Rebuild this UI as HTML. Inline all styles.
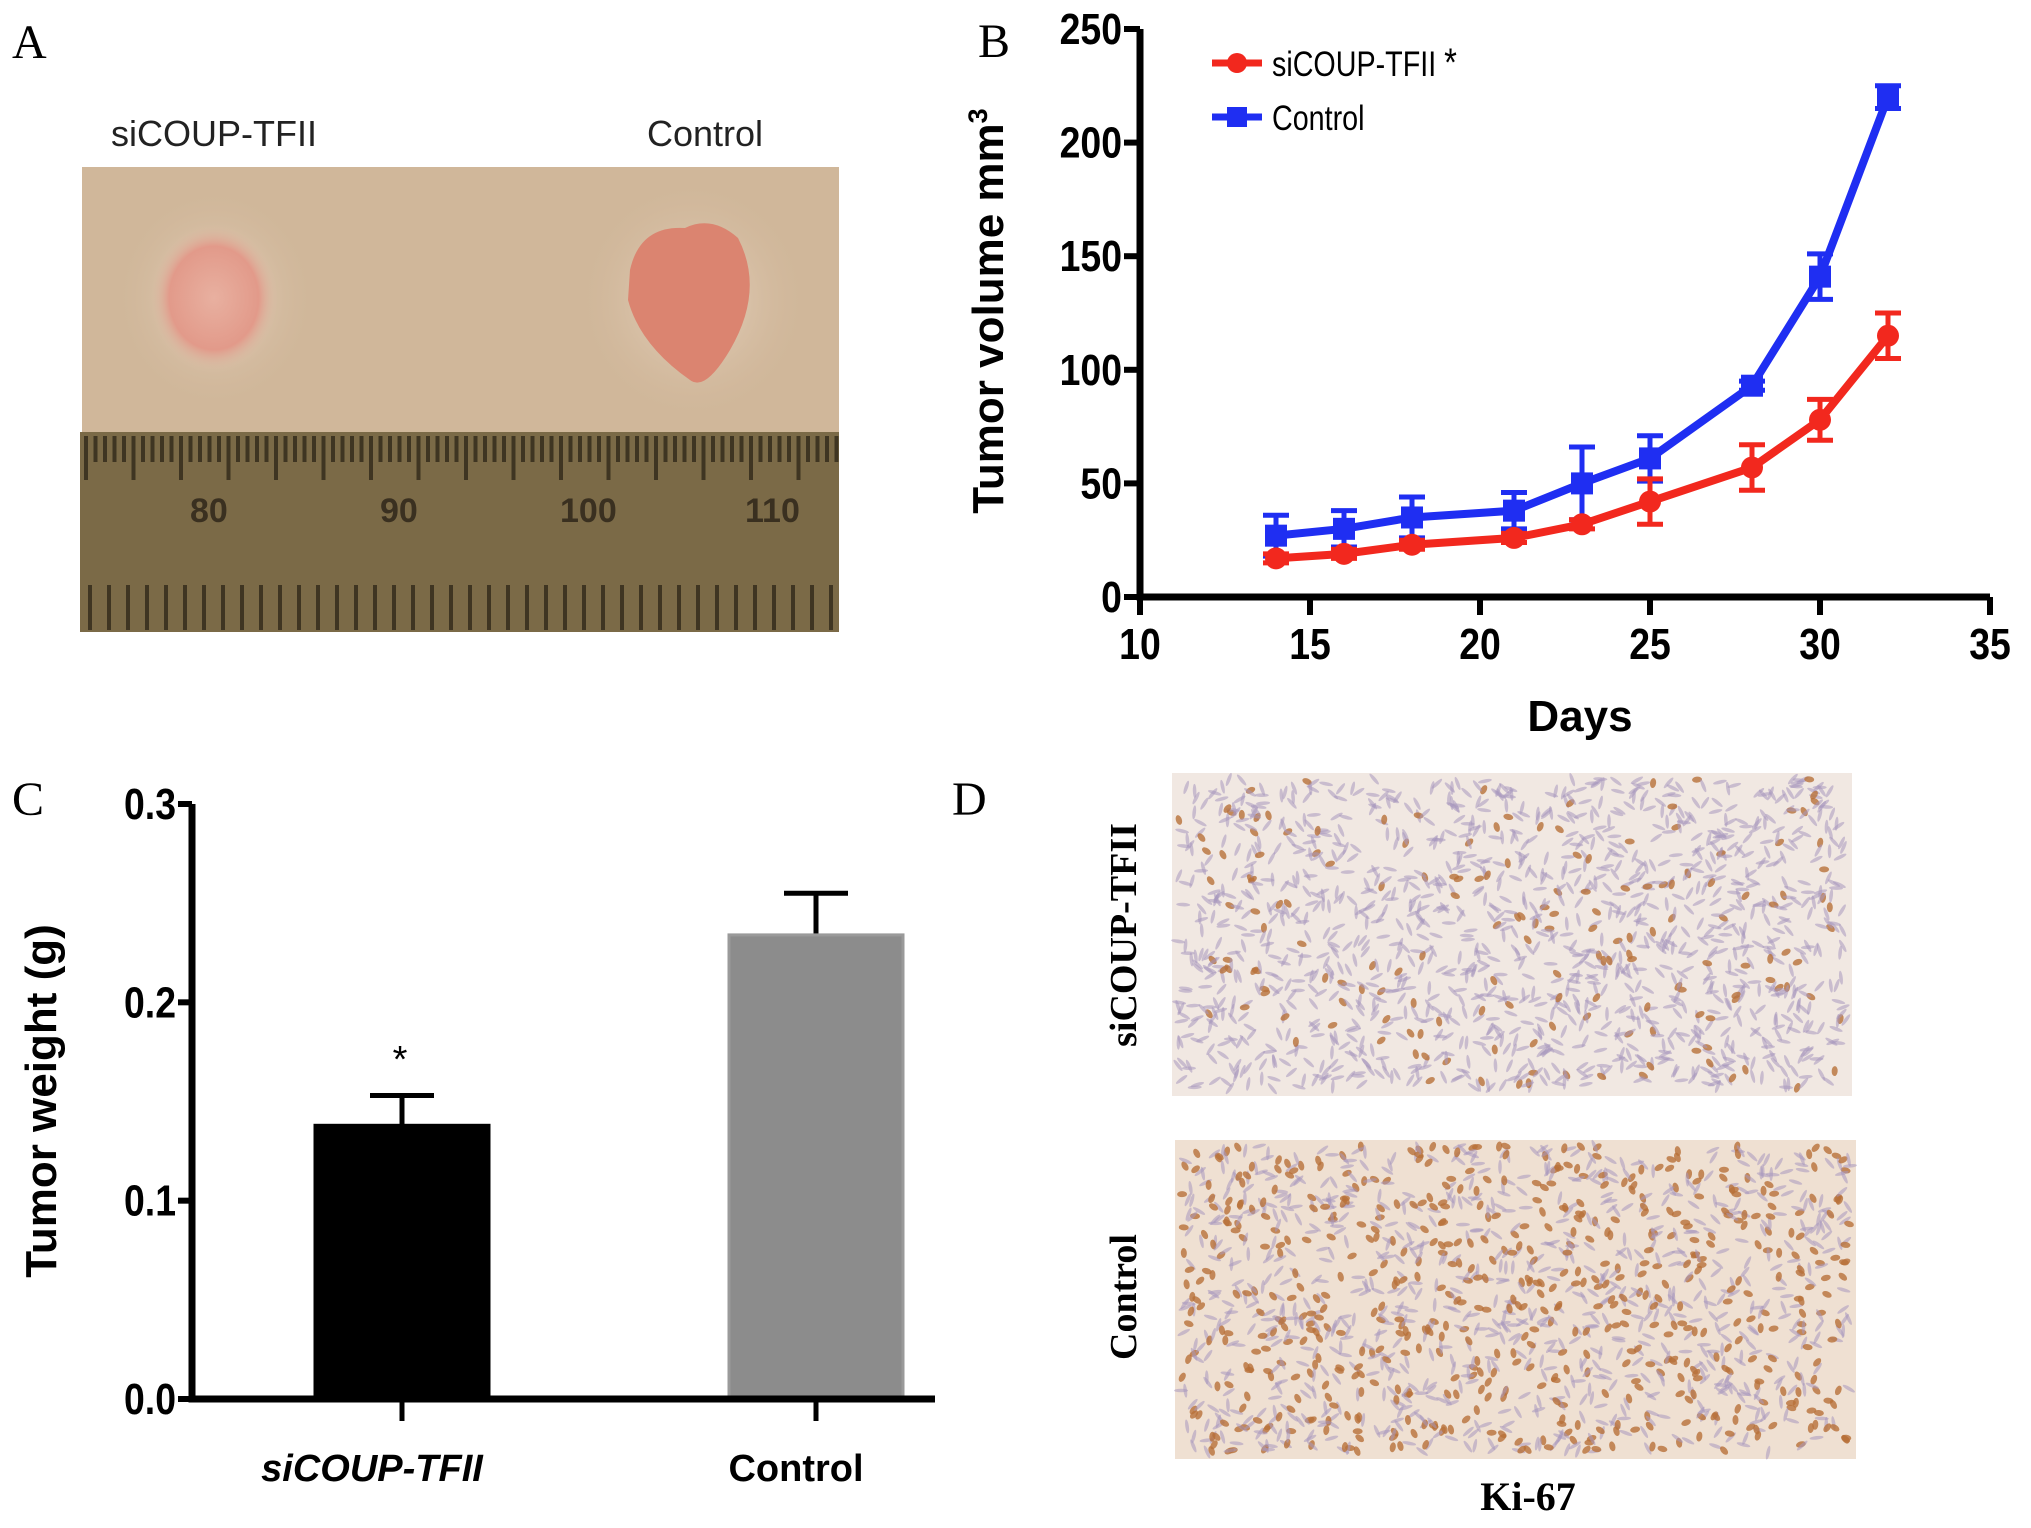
<!DOCTYPE html>
<html><head><meta charset="utf-8">
<style>
html,body{margin:0;padding:0;background:#fff;}
svg{display:block;}
</style></head>
<body>
<svg id="fig" width="2031" height="1528" viewBox="0 0 2031 1528" xmlns="http://www.w3.org/2000/svg">
<defs>
  <radialGradient id="tumorL" cx="50%" cy="50%" r="50%">
    <stop offset="0%" stop-color="#e8b0a0"/><stop offset="70%" stop-color="#e29a8a"/><stop offset="100%" stop-color="#dcc0a8" stop-opacity="0"/>
  </radialGradient>
  <radialGradient id="halo" cx="50%" cy="50%" r="50%">
    <stop offset="0%" stop-color="#ead8c6"/><stop offset="100%" stop-color="#d2b89c" stop-opacity="0"/>
  </radialGradient>
</defs>

<!-- Panel A -->
<text x="12" y="58" font-family="Liberation Serif, serif" font-size="48">A</text>
<text x="214" y="146" text-anchor="middle" font-family="Liberation Sans, sans-serif" font-size="36" fill="#222">siCOUP-TFII</text>
<text x="705" y="146" text-anchor="middle" font-family="Liberation Sans, sans-serif" font-size="36" fill="#222">Control</text>
<g>
  <rect x="82" y="167" width="757" height="268" fill="#d0b79a"/>
  <ellipse cx="215" cy="298" rx="100" ry="110" fill="url(#halo)"/>
  <ellipse cx="214" cy="298" rx="64" ry="74" fill="url(#tumorL)"/>
  <ellipse cx="693" cy="300" rx="115" ry="120" fill="url(#halo)"/>
  <path d="M630 270 Q640 225 685 228 Q712 215 738 238 Q765 290 730 350 Q705 392 690 380 Q640 345 628 300 Z" fill="#db8470"/>
  <rect x="80" y="432" width="759" height="200" fill="#7b6a47"/>
  <g id="ruler" stroke="#3f3522" stroke-width="4"></g>
  <g font-family="Liberation Sans, sans-serif" font-weight="bold" font-size="34" fill="#3a3020">
    <text x="190" y="522">80</text><text x="380" y="522">90</text><text x="560" y="522">100</text><text x="745" y="522">110</text>
  </g>
</g>

<!-- Panel B -->
<text x="978" y="57" font-family="Liberation Serif, serif" font-size="48">B</text>
<g id="chartB"></g>

<!-- Panel C -->
<text x="12" y="815" font-family="Liberation Serif, serif" font-size="48">C</text>
<g id="chartC"></g>

<!-- Panel D -->
<text x="952" y="815" font-family="Liberation Serif, serif" font-size="48">D</text>
<g>
  <rect x="1172" y="773" width="680" height="323" fill="#f1e8e2"/>
  <g id="histoTop"></g>
</g>
<g>
  <rect x="1175" y="1140" width="681" height="319" fill="#efe0d2"/>
  <g id="histoBot"></g>
</g>
<text transform="translate(1136,935) rotate(-90)" text-anchor="middle" font-family="Liberation Serif, serif" font-weight="bold" font-size="38">siCOUP-TFII</text>
<text transform="translate(1136,1297) rotate(-90)" text-anchor="middle" font-family="Liberation Serif, serif" font-weight="bold" font-size="38">Control</text>
<text x="1528" y="1510" text-anchor="middle" font-family="Liberation Serif, serif" font-weight="bold" font-size="40">Ki-67</text>
</svg>

<script>
const NS="http://www.w3.org/2000/svg";
function mk(tag,attrs,parent){const e=document.createElementNS(NS,tag);for(const k in attrs)e.setAttribute(k,attrs[k]);parent.appendChild(e);return e;}

// ---- Chart B data ----
const days=[14,16,18,21,23,25,28,30,32];
const siVals=[17,19,23,26,32,42,57,78,115];
const siErr=[2,2,2,2,2,10,10,9,10];
const ctrlVals=[27,30,35,38,50,61,93,141,220];
const ctrlErr=[9,8,9,8,16,10,2,10,5];
const xTicksB=[10,15,20,25,30,35];
const yTicksB=[0,50,100,150,200,250];

// ---- Chart C data ----
const groups=["siCOUP-TFII","Control"];
const weights=[0.138,0.234];
const weightErr=[0.015,0.021];
const yTicksC=["0.0","0.1","0.2","0.3"];

function narrow(el,x,sx){el.setAttribute('transform',`translate(${x},0) scale(${sx},1) translate(${-x},0)`);}

// Chart B
(function(){
  const g=document.getElementById('chartB');
  const L=1140,R=1990,T=29,B=597;
  const xs=v=>L+(v-10)/25*(R-L), ys=v=>B-v/250*(B-T);
  const ax=mk('path',{d:`M${L} ${T} V${B} H${R}`,stroke:'#000','stroke-width':7,fill:'none'},g);
  
  
  xTicksB.forEach(t=>{
    const ln=mk('line',{x1:xs(t),x2:xs(t),y1:B,y2:B+18,stroke:'#000','stroke-width':6},g);
    
    
    const tx=mk('text',{x:xs(t),y:B+62,'text-anchor':'middle','font-family':'Liberation Sans, sans-serif','font-weight':'bold','font-size':44},g);
    tx.textContent=t;
    narrow(tx,xs(t),0.85);
    
    
  });
  yTicksB.forEach(t=>{
    const ln=mk('line',{x1:L-16,x2:L,y1:ys(t),y2:ys(t),stroke:'#000','stroke-width':6},g);
    
    
    const tx=mk('text',{x:L-18,y:ys(t)+15,'text-anchor':'end','font-family':'Liberation Sans, sans-serif','font-weight':'bold','font-size':44},g);
    tx.textContent=t;
    narrow(tx,L-18,0.85);
    
    
  });
  const yt=mk('text',{transform:`translate(1003,311) rotate(-90)`,'text-anchor':'middle','font-family':'Liberation Sans, sans-serif','font-weight':'bold','font-size':44},g);
  yt.innerHTML='Tumor volume mm<tspan dy="-16" font-size="27">3</tspan>';
  
  
  const xt=mk('text',{x:1580,y:731,'text-anchor':'middle','font-family':'Liberation Sans, sans-serif','font-weight':'bold','font-size':44},g);
  xt.textContent='Days';
  
  

  function series(vals,errs,color,shape,name){
    const sg=mk('g',{},g);
    
    
    const pts=days.map((d,i)=>`${xs(d)},${ys(vals[i])}`).join(' ');
    mk('polyline',{points:pts,fill:'none',stroke:color,'stroke-width':8},sg);
    days.forEach((d,i)=>{
      const x=xs(d),y1=ys(vals[i]+errs[i]),y2=ys(vals[i]-errs[i]);
      const eb=mk('path',{d:`M${x} ${y1} V${y2} M${x-13} ${y1} H${x+13} M${x-13} ${y2} H${x+13}`,stroke:color,'stroke-width':5,fill:'none'},sg);
      
      
      let m;
      if(shape==='circle') m=mk('circle',{cx:x,cy:ys(vals[i]),r:11,fill:color},sg);
      else m=mk('rect',{x:x-11,y:ys(vals[i])-11,width:22,height:22,fill:color},sg);
      
      
    });
  }
  series(ctrlVals,ctrlErr,'#1f2ef2','square','control-series');
  series(siVals,siErr,'#f2281e','circle','sicoup-series');

  const lg=mk('g',{},g);
  
  
  mk('line',{x1:1212,x2:1262,y1:63,y2:63,stroke:'#f2281e','stroke-width':7},lg);
  mk('circle',{cx:1237,cy:63,r:10,fill:'#f2281e'},lg);
  const t1=mk('text',{x:1272,y:76,'font-family':'Liberation Sans, sans-serif','font-size':35},lg);
  t1.innerHTML='siCOUP-TFII <tspan font-size="40">*</tspan>';
  narrow(t1,1272,0.82);
  
  
  mk('line',{x1:1212,x2:1262,y1:117,y2:117,stroke:'#1f2ef2','stroke-width':7},lg);
  mk('rect',{x:1227,y:107,width:20,height:20,fill:'#1f2ef2'},lg);
  const t2=mk('text',{x:1272,y:130,'font-family':'Liberation Sans, sans-serif','font-size':35},lg);
  t2.textContent='Control';
  narrow(t2,1272,0.82);
  
  
})();

// Chart C
(function(){
  const g=document.getElementById('chartC');
  const L=192,R=935,T=804,B=1399;
  const ys=v=>B-v/0.3*(B-T);
  const centers=[402,816], bw=174;
  const cols=['#000','#8c8c8c'];
  groups.forEach((name,i)=>{
    const c=centers[i];
    const eb=mk('path',{d:`M${c} ${ys(weights[i])} V${ys(weights[i]+weightErr[i])} M${c-32} ${ys(weights[i]+weightErr[i])} H${c+32}`,stroke:'#000','stroke-width':5,fill:'none'},g);
    
    
    const r=mk('rect',{x:c-bw/2,y:ys(weights[i]),width:bw,height:B-ys(weights[i]),fill:cols[i],stroke:i?'#9a9a9a':'#000','stroke-width':3},g);
    
    
    const tk=mk('line',{x1:c,x2:c,y1:B,y2:B+22,stroke:'#000','stroke-width':5},g);
    
    
    const tx=mk('text',{x:c-30+i*10,y:1481,'text-anchor':'middle','font-family':'Liberation Sans, sans-serif','font-weight':'bold','font-style':i?'normal':'italic','font-size':38},g);
    tx.textContent=name;
    
    
  });
  const st=mk('text',{x:400,y:1072,'text-anchor':'middle','font-family':'Liberation Sans, sans-serif','font-size':38},g);
  st.textContent='*';
  
  
  const ax=mk('path',{d:`M${L} ${T} V${B} H${R}`,stroke:'#000','stroke-width':7,fill:'none'},g);
  
  
  yTicksC.forEach(t=>{
    const v=parseFloat(t);
    const ln=mk('line',{x1:L-14,x2:L,y1:ys(v),y2:ys(v),stroke:'#000','stroke-width':6},g);
    
    
    const tx=mk('text',{x:L-16,y:ys(v)+15,'text-anchor':'end','font-family':'Liberation Sans, sans-serif','font-weight':'bold','font-size':44},g);
    tx.textContent=t;
    narrow(tx,L-16,0.85);
    
    
  });
  const yt=mk('text',{transform:'translate(56,1101) rotate(-90)','text-anchor':'middle','font-family':'Liberation Sans, sans-serif','font-weight':'bold','font-size':44},g);
  yt.textContent='Tumor weight\u00a0(g)';
  
  
})();

// ruler ticks (decoration)
(function(){
  const g=document.getElementById('ruler');
  for(let x=86;x<838;x+=9.5){ mk('line',{x1:x,x2:x,y1:436,y2:(Math.round((x-86)/9.5)%5===0)?480:462},g); }
  for(let x=90;x<838;x+=19){ mk('line',{x1:x,x2:x,y1:585,y2:630},g); }
})();

// histology texture (decoration)
(function(){
  let s=7;const rnd=()=>{s=(s*16807)%2147483647;return s/2147483647;};
  function fill(id,x0,y0,w,h,n,brownP){
    const g=document.getElementById(id);
    for(let i=0;i<n;i++){
      const x=x0+6+rnd()*(w-12),y=y0+6+rnd()*(h-12),a=rnd()*180;
      const br=rnd()<brownP;
      mk('ellipse',{cx:x,cy:y,rx:br?5:7,ry:br?3:1.8,transform:`rotate(${a} ${x} ${y})`,fill:br?'#b8703a':'#a898bd','fill-opacity':br?0.8:0.55},g);
    }
  }
  fill('histoTop',1172,773,680,323,1500,0.12);
  fill('histoBot',1175,1140,681,319,1500,0.4);
})();
</script>
</body></html>
